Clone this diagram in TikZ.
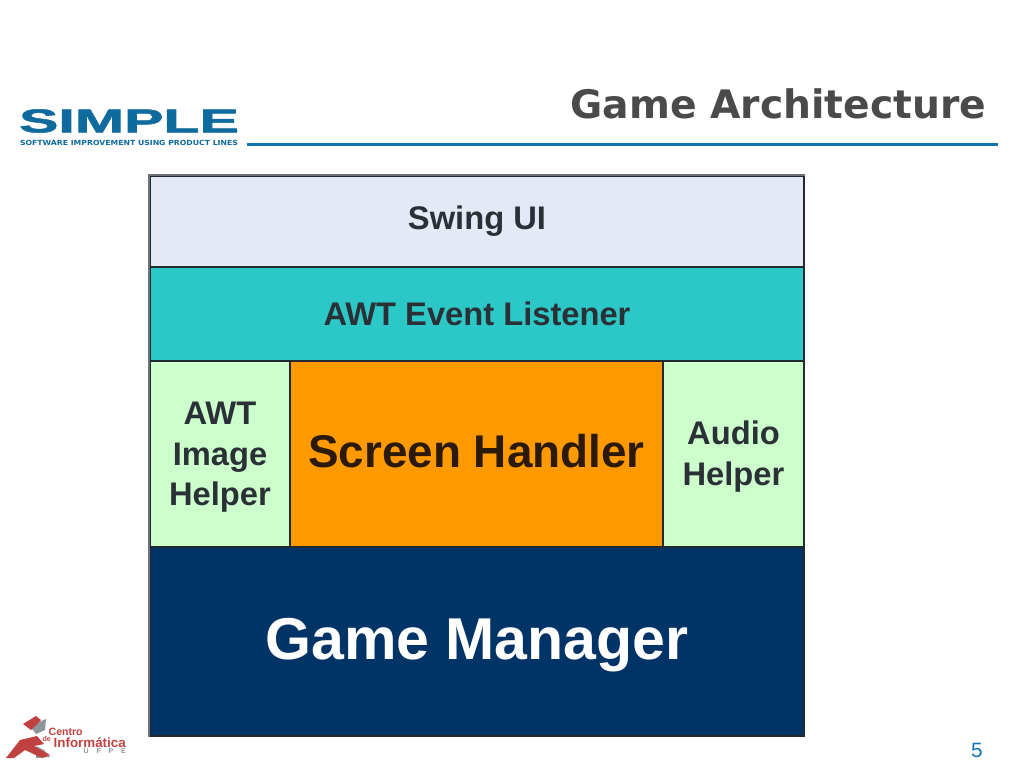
\documentclass[tikz,border=0pt]{standalone}
\usepackage{fontspec}
\setmainfont{Liberation Sans}
\newfontfamily\titlefont{DejaVu Sans}
\newfontfamily\logofont[FakeBold=1.5]{Liberation Sans}
\usepackage{xcolor}
\usetikzlibrary{calc}
\definecolor{rule}{HTML}{1273B0}
\definecolor{title}{HTML}{4A4A4A}
\definecolor{frame}{HTML}{222A30}
\definecolor{edge}{HTML}{6D7278}
\definecolor{swing}{HTML}{E4EAF5}
\definecolor{teal}{HTML}{2CC8C8}
\definecolor{mint}{HTML}{CCFFCC}
\definecolor{orange}{HTML}{FF9900}
\definecolor{navy}{HTML}{003366}
\definecolor{ink}{HTML}{2A3036}
\definecolor{inkB}{HTML}{2B1A0A}
\definecolor{logo}{HTML}{0F6A9E}
\definecolor{cired}{HTML}{C0413F}
\definecolor{cigrey}{HTML}{8E959B}
\tikzset{
  layer/.style={draw=frame, line width=0.35pt, inner sep=0pt, align=center, text=ink, font=\bfseries},
  lab/.style={inner sep=0pt, font=\bfseries}
}
\begin{document}
\begin{tikzpicture}
  \useasboundingbox[fill=white] (0,0) rectangle (10.24,-7.68);

  % header
  \node[lab,text=title,font=\titlefont\bfseries\fontsize{11.17}{13}\selectfont,anchor=east] (head) at (9.87,-1.04) {Game Architecture};
  \coordinate (ruleA) at (2.47,-1.445);
  \coordinate (ruleB) at (9.98,-1.445);
  \draw[rule,line width=0.85pt] (ruleA) -- (ruleB);

  % logo
  \node[lab,text=logo,font=\logofont\bfseries\fontsize{8.4}{9}\selectfont,xscale=2.0,yscale=1.12] (simple) at (1.29,-1.21) {SIMPLE};
  \node[lab,text=logo,font=\titlefont\bfseries\fontsize{2}{3}\selectfont,xscale=1.1] (slogan) at (1.29,-1.425) {SOFTWARE IMPROVEMENT USING PRODUCT LINES};

  % layers
  \node[layer,fill=swing,minimum width=6.54cm,minimum height=0.91cm,font=\bfseries\fontsize{9.3}{10}\selectfont] (ui) at (4.77,-2.215) {Swing UI};
  \node[layer,fill=teal,minimum width=6.54cm,minimum height=0.94cm,font=\bfseries\fontsize{9.3}{10}\selectfont] (awt) at (4.77,-3.14) {AWT Event Listener};
  \node[layer,fill=mint,minimum width=1.40cm,minimum height=1.86cm,font=\bfseries\fontsize{9.3}{11.4}\selectfont] (image) at (2.20,-4.54) {\rule{0pt}{8.2pt}AWT\\Image\\Helper};
  \node[layer,fill=orange,text=inkB,minimum width=3.73cm,minimum height=1.86cm,font=\bfseries\fontsize{13.05}{14}\selectfont] (screen) at (4.765,-4.54) {\rule[-1.9pt]{0pt}{1pt}Screen Handler};
  \node[layer,fill=mint,minimum width=1.41cm,minimum height=1.86cm,font=\bfseries\fontsize{9.3}{11.4}\selectfont] (audio) at (7.335,-4.54) {\rule{0pt}{8.2pt}Audio\\Helper};
  \node[layer,fill=navy,text=white,minimum width=6.54cm,minimum height=1.89cm,font=\bfseries\fontsize{16.8}{18}\selectfont] (manager) at (4.77,-6.415) {\rule{0pt}{13.6pt}Game Manager};
  \draw[edge,line width=0.6pt] (manager.south west) -- (ui.north west) -- (ui.north east);

  % centro logo
  \fill[cigrey] (0.30,-7.26) -- (0.46,-7.19) -- (0.45,-7.30) -- (0.36,-7.34) -- cycle;
  \fill[cired] (0.23,-7.24) -- (0.36,-7.16) -- (0.41,-7.20) -- (0.31,-7.30) -- cycle;
  \fill[cigrey] (0.36,-7.46) -- (0.44,-7.50) -- (0.50,-7.57) -- (0.36,-7.58) -- cycle;
  \fill[cired] (0.06,-7.58) -- (0.20,-7.40) -- (0.37,-7.36) -- (0.44,-7.44) -- (0.34,-7.46) -- (0.50,-7.55) -- (0.42,-7.58) -- (0.25,-7.50) -- (0.14,-7.58) -- cycle;
  \node[lab,text=cired,font=\bfseries\fontsize{3}{3}\selectfont,anchor=west] (centro) at (0.48,-7.32) {Centro};
  \node[lab,text=cired,font=\bfseries\fontsize{2}{3}\selectfont,anchor=west] (de) at (0.42,-7.385) {de};
  \node[lab,text=cired,font=\bfseries\fontsize{3.8}{4}\selectfont,anchor=west] (info) at (0.53,-7.43) {Informática};
  \node[lab,text=cigrey,font=\bfseries\fontsize{2}{2}\selectfont,anchor=west] (ufpe) at (0.83,-7.51) {U\ \ \ \ F\ \ \ \ P\ \ \ \ E};

  % page
  \node[inner sep=0pt,text=rule,font=\fontsize{5.9}{7}\selectfont] (page) at (9.77,-7.50) {5};
\end{tikzpicture}
\end{document}
